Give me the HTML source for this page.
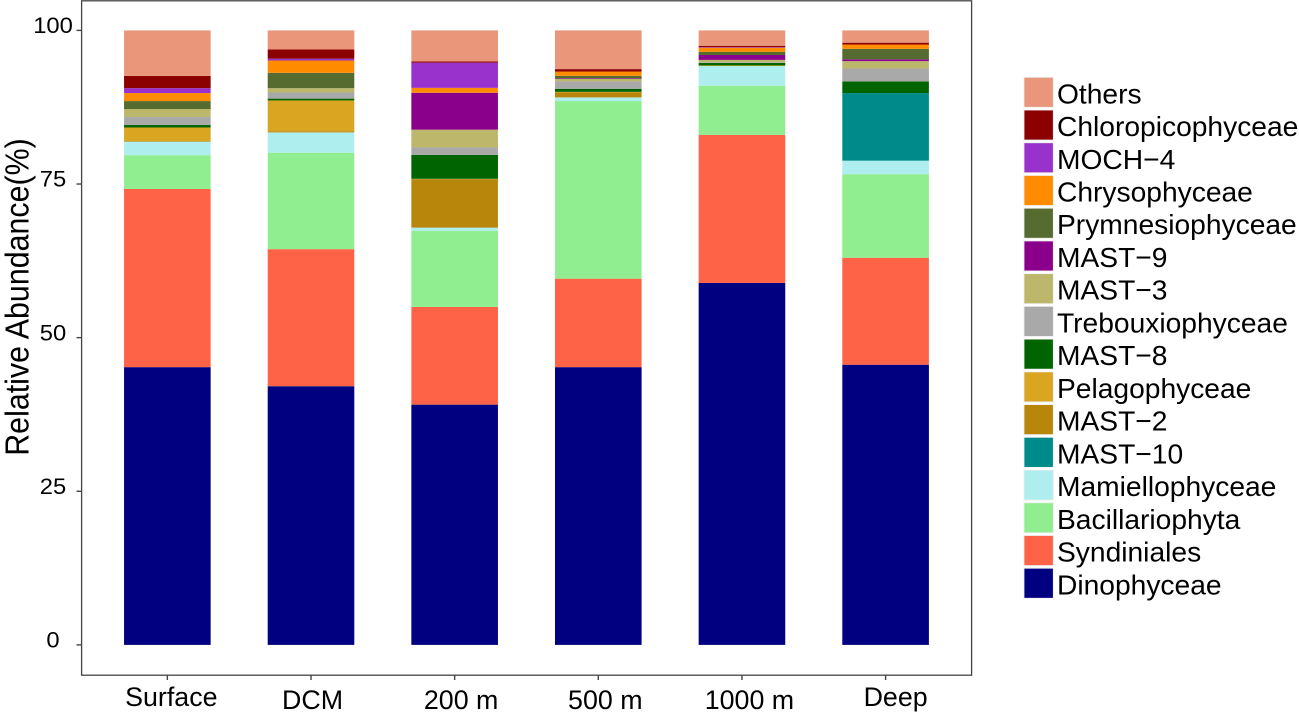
<!DOCTYPE html>
<html>
<head>
<meta charset="utf-8">
<title>Relative Abundance</title>
<style>
html,body{margin:0;padding:0;background:#fff;width:1299px;height:721px;overflow:hidden}
svg{display:block}
text{font-family:"Liberation Sans",Arial,sans-serif;fill:#000}
</style>
</head>
<body>
<svg id="chart" xmlns="http://www.w3.org/2000/svg" width="1299" height="721" viewBox="0 0 1299 721"></svg>
<script>
const categories = ["Surface", "DCM", "200 m", "500 m", "1000 m", "Deep"];
const yTicks = [0, 25, 50, 75, 100];
const seriesNames = ["Dinophyceae", "Syndiniales", "Bacillariophyta", "Mamiellophyceae", "MAST\u221210", "MAST\u22122", "Pelagophyceae", "MAST\u22128", "Trebouxiophyceae", "MAST\u22123", "MAST\u22129", "Prymnesiophyceae", "Chrysophyceae", "MOCH\u22124", "Chloropicophyceae", "Others"];
const seriesColors = ["#000080", "#FF6347", "#90EE90", "#AFEEEE", "#008B8B", "#B8860B", "#DAA520", "#006400", "#A9A9A9", "#BDB76B", "#8B008B", "#556B2F", "#FF8C00", "#9932CC", "#8B0000", "#E9967A"];

const dinophyceae = [45.2, 42.1, 39.1, 45.2, 58.9, 45.6];
const syndiniales = [29.0, 22.3, 15.9, 14.4, 24.1, 17.4];
const bacillariophyta = [5.5, 15.7, 12.4, 28.9, 8.0, 13.6];
const mamiellophyceae = [2.2, 3.3, 0.5, 0.6, 3.2, 2.2];
const mast10 = [0, 0, 0, 0, 0, 11.0];
const mast2 = [0.1, 0.2, 7.9, 0.8, 0, 0];
const pelagophyceae = [2.2, 5.0, 0.05, 0.1, 0.1, 0];
const mast8 = [0.4, 0.3, 3.9, 0.5, 0.4, 1.9];
const trebouxiophyceae = [1.3, 1.0, 1.2, 1.2, 0.1, 2.1];
const mast3 = [1.3, 0.7, 2.9, 0.4, 0.4, 1.2];
const mast9 = [0, 0, 6.0, 0.1, 0.8, 0.3];
const prymnesiophyceae = [1.3, 2.5, 0, 0.4, 0.5, 1.7];
const chrysophyceae = [1.3, 2.0, 0.8, 0.7, 0.7, 0.7];
const moch4 = [0.8, 0.3, 4.1, 0, 0.1, 0];
const chloropicophyceae = [2.0, 1.5, 0.2, 0.4, 0.2, 0.3];
const others = [7.4, 3.1, 5.05, 6.3, 2.5, 2.0];

const seriesValues = [dinophyceae, syndiniales, bacillariophyta, mamiellophyceae, mast10, mast2, pelagophyceae, mast8, trebouxiophyceae, mast3, mast9, prymnesiophyceae, chrysophyceae, moch4, chloropicophyceae, others];

const svg = document.getElementById('chart');
const NS = 'http://www.w3.org/2000/svg';
function make(tag, attrs, parent) {
  const el = document.createElementNS(NS, tag);
  for (const k in attrs) el.setAttribute(k, attrs[k]);
  (parent || svg).appendChild(el);
  return el;
}
function slug(s) {
  return s.toLowerCase().replace(/[^a-z0-9]+/g, '-');
}
const yScale = v => 644.9 - v * 6.145;
const xScale = i => 167.35 + i * 143.65;
const barWidth = 86.6;
/* hand-placed label offsets in the original figure */
function xLabelNudge(cat) {
  return {"Surface": 4, "DCM": 1.5, "200 m": 6.5, "500 m": 7, "1000 m": 7.5, "Deep": 10}[cat] || 0;
}
function xLabelBaseline(cat) {
  return (cat === 'Surface' || cat === 'Deep') ? 706 : 709;
}

/* panel */
const panel = make('rect', {x: 81.6, y: 0.8, width: 890, height: 674.4, fill: '#fff', stroke: '#444', 'stroke-width': 1.3});



/* bars */
categories.forEach(function (cat, i) {
  let cum = 0;
  const group = make('g', {});
  
  
  seriesValues.forEach(function (vals, s) {
    const v = vals[i];
    if (v > 0) {
      const top = yScale(cum + v);
      const r = make('rect', {x: xScale(i) - barWidth / 2, y: top, width: barWidth, height: yScale(cum) - top, fill: seriesColors[s]}, group);
      
      
    }
    cum += v;
  });
});

/* y axis */
yTicks.forEach(function (t) {
  const tick = make('line', {x1: 76.5, x2: 81.6, y1: yScale(t), y2: yScale(t), stroke: '#444', 'stroke-width': 1.4});
  
  
  const label = make('text', {x: 0, y: 0, 'text-anchor': 'middle', 'font-size': 22, transform: 'translate(53,' + (yScale(t) + 2.7) + ') scale(1.08,1)'});
  label.textContent = t;
  
  
});
const yTitle = make('text', {x: 0, y: 0, 'text-anchor': 'middle', 'font-size': 30.4, transform: 'translate(28.3,297) rotate(-90) scale(1,1.1)'});
yTitle.textContent = 'Relative Abundance(%)';



/* x axis */
categories.forEach(function (cat, i) {
  const tick = make('line', {x1: xScale(i), x2: xScale(i), y1: 675, y2: 680, stroke: '#444', 'stroke-width': 1.4});
  
  
  const label = make('text', {x: xScale(i) + xLabelNudge(cat), y: xLabelBaseline(cat), 'text-anchor': 'middle', 'font-size': 26.8});
  label.textContent = cat;
  
  
});

/* legend: reversed so Others is first */
const legend = make('g', {});


for (let s = seriesNames.length - 1; s >= 0; s--) {
  const row = seriesNames.length - 1 - s;
  const top = 77.3 + row * 32.73;
  const entry = make('g', {}, legend);
  
  
  const key = make('rect', {x: 1024, y: top, width: 29.3, height: 30, fill: seriesColors[s], stroke: '#eeeeee', 'stroke-width': 0.8}, entry);
  
  
  const txt = make('text', {x: 1057, y: top + 26, 'font-size': 28.2}, entry);
  txt.textContent = seriesNames[s];
  
  
}
</script>
</body>
</html>
